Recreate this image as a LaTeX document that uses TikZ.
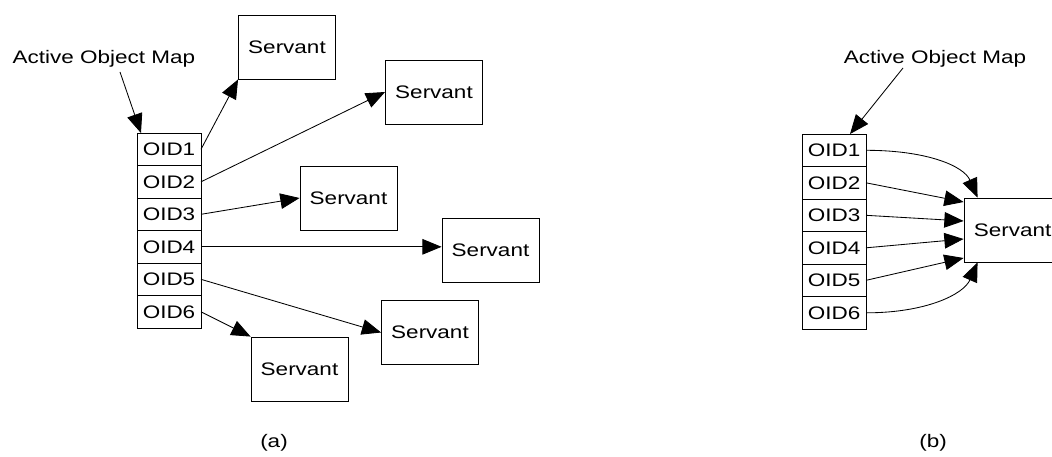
\documentclass[tikz,border=0pt]{standalone}
\usepackage{fontspec}
\setmainfont[FakeStretch=1.24]{Liberation Sans}
\usepackage{tikz}
\usetikzlibrary{positioning,calc,arrows.meta}

\begin{document}
\begin{tikzpicture}[x=0.025cm,y=-0.025cm,
		font=\fontsize{12.9}{15}\selectfont,
		cell/.style={draw,semithick,minimum width=1.6cm,minimum height=0.8125cm,inner sep=0pt,outer sep=0pt},
		servant/.style={draw,semithick,minimum width=2.425cm,minimum height=1.6cm,inner sep=0pt},
		arr/.style={semithick,-{Triangle[length=0.48cm,width=0.39cm]}}]
		\useasboundingbox (0,0) rectangle (1052,457);
		% (a) one servant for each object id
		\node[] (mapA) at (104,59) {Active Object Map};
		\node[cell] (a1) at (169,149.3) {OID1};
		\node[cell,below=0 of a1] (a2) {OID2};
		\node[cell,below=0 of a2] (a3) {OID3};
		\node[cell,below=0 of a3] (a4) {OID4};
		\node[cell,below=0 of a4] (a5) {OID5};
		\node[cell,below=0 of a5] (a6) {OID6};
		\node[servant] (sa1) at (287,47) {Servant};
		\node[servant] (sa2) at (434,92) {Servant};
		\node[servant] (sa3) at (348.5,198) {Servant};
		\node[servant] (sa4) at (490.5,250.5) {Servant};
		\node[servant] (sa5) at (430,332.5) {Servant};
		\node[servant] (sa6) at (299.5,369) {Servant};
		\coordinate (pA) at (120,72);
		\draw[arr] (pA) -- ($(a1.north west)+(4,0)$);
		\draw[arr] (a1.east) -- (sa1.south west);
		\draw[arr] (a2.east) -- (sa2.west);
		\draw[arr] (a3.east) -- (sa3.west);
		\draw[arr] (a4.east) -- (a4.east -| sa4.west);
		\draw[arr] (a5.east) -- (sa5.west);
		\draw[arr] (a6.east) -- (sa6.north west);
		\node[] (capA) at (274,443) {(a)};
		% (b) one servant for all object ids
		\node[] (mapB) at (935,59) {Active Object Map};
		\node[cell] (b1) at (834,150.3) {OID1};
		\node[cell,below=0 of b1] (b2) {OID2};
		\node[cell,below=0 of b2] (b3) {OID3};
		\node[cell,below=0 of b3] (b4) {OID4};
		\node[cell,below=0 of b4] (b5) {OID5};
		\node[cell,below=0 of b5] (b6) {OID6};
		\node[servant] (sb) at (1012.5,230) {Servant};
		\coordinate (pB) at (903,68);
		\draw[arr] (pB) -- ($(b1.north east)+(-16,0)$);
		\draw[arr] (b1.east) .. controls +(60,0) and +(-14,-32) .. ($(sb.north west)+(14,0)$);
		\draw[arr] (b2.east) -- ($(sb.west)+(0,-28)$);
		\draw[arr] (b3.east) -- ($(sb.west)+(0,-9)$);
		\draw[arr] (b4.east) -- ($(sb.west)+(0,9)$);
		\draw[arr] (b5.east) -- ($(sb.west)+(0,28)$);
		\draw[arr] (b6.east) .. controls +(60,0) and +(-14,32) .. ($(sb.south west)+(14,0)$);
		\node[] (capB) at (933,443) {(b)};
\end{tikzpicture}
\end{document}
